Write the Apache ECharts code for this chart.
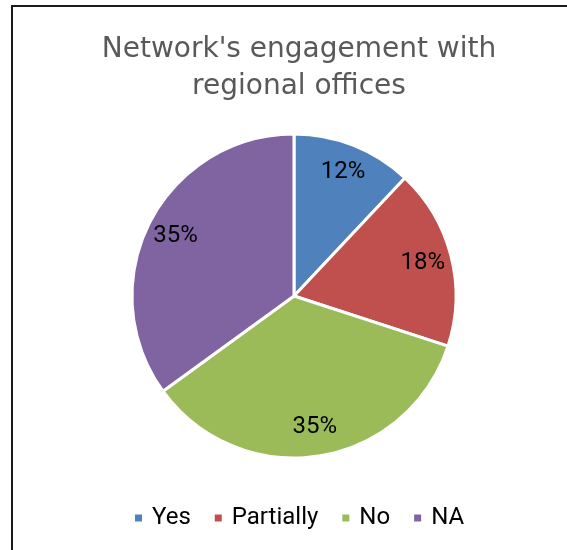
<!DOCTYPE html>
<html>
<head>
<meta charset="utf-8">
<script src="https://cdn.jsdelivr.net/npm/echarts@6/dist/echarts.min.js"></script>
<style>
  html, body { margin: 0; padding: 0; background: #fff; }
  #chart { width: 567px; height: 550px; }
</style>
</head>
<body>
<div id="chart"></div>
<script>
// Responses about the network's engagement with regional offices (percent)
const categories = ['Yes', 'Partially', 'No', 'NA'];
const shares = [12, 18, 35, 35];
const sliceColors = ['#4F81BD', '#C0504D', '#9BBB59', '#8064A2'];

const slices = categories.map((name, i) => ({
  name: name,
  value: shares[i],
  itemStyle: { color: sliceColors[i] }
}));

const center = [294, 296];
const outer = 162;

const chart = echarts.init(document.getElementById('chart'), null, { renderer: 'canvas' });
chart.setOption({
  backgroundColor: '#ffffff',
  animation: false,
  title: {
    text: "Network's engagement with\nregional offices",
    left: 294,
    textAlign: 'center',
    top: 26,
    textStyle: {
      fontFamily: 'DejaVu Sans',
      fontWeight: 'normal',
      fontSize: 28,
      lineHeight: 37,
      color: '#595959'
    }
  },
  legend: {
    data: categories,
    left: 128,
    top: 501,
    icon: 'rect',
    itemWidth: 9,
    itemHeight: 9,
    itemGap: 22,
    textStyle: {
      fontFamily: 'Roboto',
      fontSize: 24,
      color: '#000000',
      padding: [0, 0, 0, 4]
    }
  },
  graphic: [{
    type: 'rect',
    silent: true,
    shape: { x: 12, y: 6, width: 700, height: 700 },
    style: { fill: 'none', stroke: '#1a1a1a', lineWidth: 2 }
  }],
  series: [
    {
      // the pie itself
      type: 'pie',
      center: center,
      radius: [0, outer],
      startAngle: 90,
      clockwise: true,
      data: slices,
      label: { show: false },
      labelLine: { show: false },
      itemStyle: { borderColor: '#ffffff', borderWidth: 3 },
      emphasis: { disabled: true }
    },
    {
      // percentage labels placed toward the rim of each slice
      type: 'pie',
      center: center,
      radius: [98, outer],
      startAngle: 90,
      clockwise: true,
      silent: true,
      data: categories.map((name, i) => ({
        name: name,
        value: shares[i],
        itemStyle: { color: 'rgba(0,0,0,0)' }
      })),
      itemStyle: { borderWidth: 0 },
      label: {
        show: true,
        position: 'inside',
        formatter: p => p.value + '%',
        fontFamily: 'Roboto',
        fontSize: 24,
        color: '#000000'
      },
      labelLine: { show: false },
      emphasis: { disabled: true }
    }
  ]
});
</script>
</body>
</html>
